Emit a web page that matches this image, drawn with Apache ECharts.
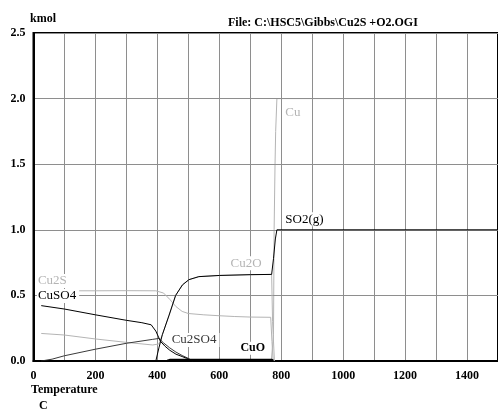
<!DOCTYPE html>
<html>
<head>
<meta charset="utf-8">
<script src="https://cdn.jsdelivr.net/npm/echarts@6/dist/echarts.min.js"></script>
<style>
  html, body { margin: 0; padding: 0; background: #fff; }
  #chart { width: 498px; height: 410px; }
</style>
</head>
<body>
<div id="chart"></div>
<script>
// Equilibrium amounts (kmol) versus temperature (C) for Cu2S + O2
const cu2s   = [[25,0.535],[100,0.535],[200,0.535],[300,0.536],[395,0.535],[420,0.518],[440,0.47],[460,0.415],[480,0.378],[500,0.362],[550,0.352],[600,0.345],[650,0.339],[700,0.335],[766,0.333],[770,0.15],[774,0]];
const cuso4  = [[25,0.422],[100,0.396],[200,0.352],[300,0.31],[350,0.292],[380,0.276],[395,0.228],[410,0.15],[425,0.112],[440,0.082],[460,0.052],[480,0.034],[495,0.02],[510,0]];
const cu2so4 = [[25,0],[60,0.014],[100,0.04],[200,0.09],[300,0.135],[385,0.165],[405,0.172],[420,0.138],[440,0.1],[460,0.068],[480,0.042],[500,0.02],[515,0]];
const cu2o   = [[25,0.21],[100,0.198],[200,0.168],[300,0.142],[385,0.122],[405,0.13],[416,0.2],[438,0.35],[459,0.5],[481,0.58],[502,0.62],[534,0.643],[600,0.652],[700,0.658],[769,0.66],[772,0.3],[778,0]];
const so2    = [[25,0],[395,0],[405,0.1],[416,0.2],[438,0.35],[459,0.5],[481,0.58],[502,0.62],[534,0.643],[600,0.652],[700,0.658],[769,0.66],[775,0.78],[781,0.93],[786,1.0],[1500,1.0]];
const cuo    = [[432,0],[440,0.007],[600,0.007],[770,0.007],[774,0]];
const cu     = [[768,0],[775,0.2],[777,1.0],[780,1.5],[782,1.75],[786,2.0],[1500,2.0]];

const xTicks = [0, 200, 400, 600, 800, 1000, 1200, 1400];

const serif = '"Liberation Serif", "DejaVu Serif", serif';
const BLACK = '#000';
const GRAY = '#b4b4b4';
const DARK = '#3a3a3a';

// species names written next to their curves, anchored in data units
const speciesLabels = [
  { text: 'Cu2S',   at: [11, 0.61],   color: GRAY,  bold: false },
  { text: 'CuSO4',  at: [11, 0.495],  color: BLACK, bold: false },
  { text: 'Cu2SO4', at: [443, 0.16],  color: DARK,  bold: false },
  { text: 'CuO',    at: [665, 0.097], color: BLACK, bold: true  },
  { text: 'Cu2O',   at: [633, 0.745], color: GRAY,  bold: false },
  { text: 'Cu',     at: [810, 1.89],  color: GRAY,  bold: false },
  { text: 'SO2(g)', at: [810, 1.08],  color: BLACK, bold: false }
];

function curve(name, data, color, width, z) {
  return {
    name: name,
    type: 'line',
    data: data,
    symbol: 'none',
    smooth: false,
    animation: false,
    z: z === undefined ? 2 : z,
    lineStyle: { color: color, width: width || 1 },
    emphasis: { disabled: true }
  };
}

const chart = echarts.init(document.getElementById('chart'), null, { renderer: 'canvas' });

chart.setOption({
  animation: false,
  backgroundColor: '#fff',
  grid: {
    left: 33.5,
    top: 33,
    width: 468,
    height: 328,
    show: true,
    borderColor: BLACK,
    borderWidth: 2,
    backgroundColor: 'transparent'
  },
  xAxis: {
    type: 'value',
    min: 0,
    max: 1500,
    interval: 100,
    axisLine: { show: true, onZero: false, lineStyle: { color: BLACK, width: 2 } },
    axisTick: { show: false },
    splitLine: { show: true, lineStyle: { color: '#8e8e8e', width: 1 } },
    axisLabel: {
      margin: 9,
      color: BLACK,
      fontFamily: serif,
      fontWeight: 'bold',
      fontSize: 12,
      showMaxLabel: false,
      formatter: v => (xTicks.indexOf(v) >= 0 ? String(v) : '')
    }
  },
  yAxis: {
    type: 'value',
    min: 0,
    max: 2.5,
    interval: 0.5,
    axisLine: { show: true, onZero: false, lineStyle: { color: BLACK, width: 2 } },
    axisTick: { show: false },
    splitLine: { show: true, lineStyle: { color: '#8e8e8e', width: 1 } },
    axisLabel: {
      margin: 8,
      color: BLACK,
      fontFamily: serif,
      fontWeight: 'bold',
      fontSize: 12,
      formatter: v => v.toFixed(1)
    }
  },
  graphic: [
    { type: 'text', left: 30, top: 13, style: { text: 'kmol', font: 'bold 12px ' + serif, fill: BLACK } },
    { type: 'text', left: 228, top: 17, style: { text: 'File: C:\\HSC5\\Gibbs\\Cu2S +O2.OGI', font: 'bold 12px ' + serif, fill: BLACK } },
    { type: 'text', left: 31, top: 384, style: { text: 'Temperature', font: 'bold 12px ' + serif, fill: BLACK } },
    { type: 'text', left: 39, top: 400, style: { text: 'C', font: 'bold 12px ' + serif, fill: BLACK } }
  ],
  series: [
    curve('Cu2O', cu2o, GRAY),
    curve('Cu2S', cu2s, GRAY),
    // Cu sits at 2.0 above 786 C, under the 2.0 grid line
    curve('Cu', cu, GRAY, 1, -1),
    curve('Cu2SO4', cu2so4, DARK),
    curve('CuSO4', cuso4, BLACK),
    curve('CuO', cuo, BLACK, 2.5),
    curve('SO2(g)', so2, BLACK),
    {
      name: 'labels',
      type: 'scatter',
      data: [],
      z: 20,
      silent: true,
      markPoint: {
        symbol: 'circle',
        symbolSize: 0,
        silent: true,
        animation: false,
        data: speciesLabels.map(l => ({
          coord: l.at,
          label: {
            show: true,
            position: 'right',
            distance: 0,
            formatter: l.text,
            color: l.color,
            fontFamily: serif,
            fontWeight: l.bold ? 'bold' : 'normal',
            fontSize: l.bold ? 12 : 13,
            backgroundColor: '#fff',
            padding: [1, 3, 0, 1]
          }
        }))
      }
    }
  ]
});
</script>
</body>
</html>
